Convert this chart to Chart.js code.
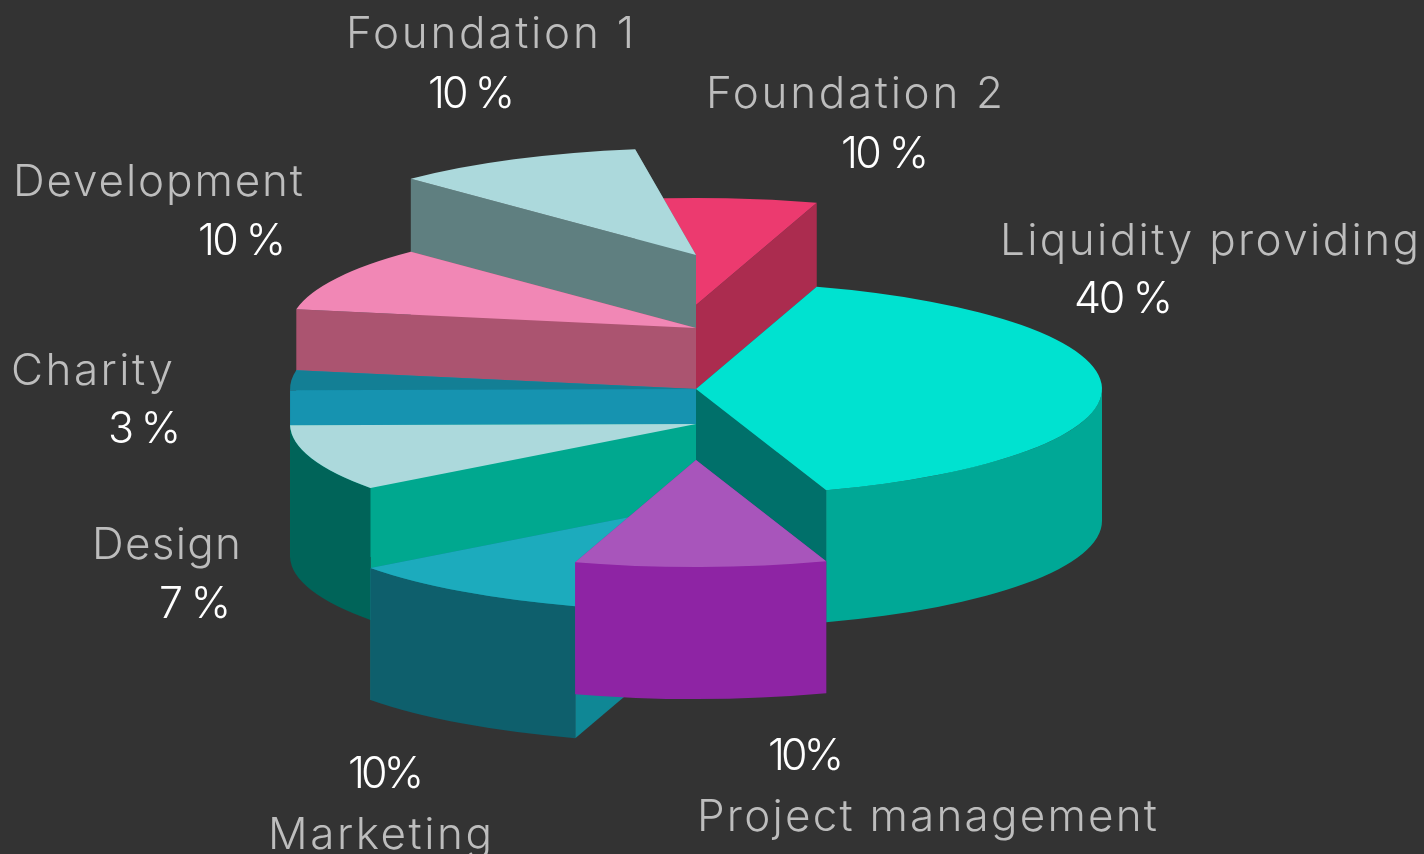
<!DOCTYPE html>
<html>
<head>
<meta charset="utf-8">
<style>
  html, body { margin: 0; padding: 0; background: #333333; overflow: hidden; }
  canvas { display: block; }
</style>
<script src="https://cdn.jsdelivr.net/npm/chart.js@4/dist/chart.umd.min.js"></script>
</head>
<body>
<canvas id="pie3d" width="1424" height="854"></canvas>
<script>
const categories = ["Liquidity providing", "Project management", "Marketing", "Design", "Charity", "Development", "Foundation 1", "Foundation 2"];
// printed next to each slice
const percentLabels = ["40 %", "10%", "10%", "7 %", "3 %", "10 %", "10 %", "10 %"];
// slice sweeps (it does not follow its own labels)
const drawnShares = [40, 10, 10, 10, 3, 9.8, 10, 7.2];

const topColors = ["#00e2d0", "#a855bb", "#1cabbd", "#acd9dc", "#137f95", "#f187b5", "#acd9dc", "#ec3a6f"];
const outerColors = ["#00a896", "#8e24a4", "#0e5f6c", "#006459", "#137f95", "#ab5470", "#5f7f80", "#ab2c4f"];
const wallColors = ["#00706a", "#8e24a4", "#0f8795", "#00a88f", "#1693b0", "#ab5470", "#5f7f80", "#ab2c4f"];

// look of the fake 3d
const squash = 0.2635;
const depth = 132;
const pieShift = -38;
const sliceDrop = [0, 71, 115, 35, 0, -61, -134, -84];
const drawOrder = [7, 6, 5, 4, 0, 3, 2, 1];

// [x, baseline, width] of name and percent text
const nameBoxes = [[1000, 255, 419], [697, 831, 460], [268, 849, 224], [92, 559, 149], [11, 385, 162], [13, 196, 290], [346, 48, 288], [706, 108, 297]];
const percentBoxes = [[1074, 313, 99], [768, 770, 76], [348, 788, 76], [159, 618, 72], [108, 443, 73], [198, 255, 88], [428, 108, 87], [841, 168, 88]];

function drawSlice(ctx, arc, i) {
  const { x, y, startAngle, endAngle, outerRadius } = arc.getProps(["x", "y", "startAngle", "endAngle", "outerRadius"]);
  const cy = y + pieShift + sliceDrop[i];
  const ry = outerRadius * squash;

  // radial walls, the one higher on screen first
  const angles = [startAngle, endAngle].sort((a, b) => Math.sin(a) - Math.sin(b));
  ctx.fillStyle = wallColors[i];
  angles.forEach((a) => {
    const ex = x + outerRadius * Math.cos(a);
    const ey = cy + ry * Math.sin(a);
    ctx.beginPath();
    ctx.moveTo(x, cy);
    ctx.lineTo(ex, ey);
    ctx.lineTo(ex, ey + depth);
    ctx.lineTo(x, cy + depth);
    ctx.closePath();
    ctx.fill();
  });

  // outer wall, only the part that faces the viewer
  const from = Math.max(startAngle, 0);
  const to = Math.min(endAngle, Math.PI);
  if (to > from) {
    ctx.fillStyle = outerColors[i];
    ctx.beginPath();
    ctx.ellipse(x, cy, outerRadius, ry, 0, from, to);
    ctx.ellipse(x, cy + depth, outerRadius, ry, 0, to, from, true);
    ctx.closePath();
    ctx.fill();
  }

  // top face is the library's own arc, flattened
  ctx.save();
  ctx.translate(x, cy);
  ctx.scale(1, squash);
  ctx.translate(-x, -y);
  arc.draw(ctx);
  ctx.restore();
}

function fitText(ctx, text, box) {
  ctx.letterSpacing = "0px";
  const gap = (box[2] - ctx.measureText(text).width) / (text.length - 1);
  ctx.letterSpacing = gap.toFixed(2) + "px";
  ctx.fillText(text, box[0], box[1]);
}

const pie3dPlugin = {
  id: "pie3d",
  beforeDatasetsDraw(chart) {
    const arcs = chart.getDatasetMeta(0).data;
    drawOrder.forEach((i) => drawSlice(chart.ctx, arcs[i], i));
    return false;
  },
  afterDraw(chart) {
    const ctx = chart.ctx;
    ctx.save();
    ctx.textAlign = "left";
    ctx.textBaseline = "alphabetic";
    categories.forEach((name, i) => {
      ctx.font = "300 44px Inter";
      ctx.fillStyle = "#bdbdbd";
      fitText(ctx, name, nameBoxes[i]);
      ctx.font = "300 43px Inter";
      ctx.fillStyle = "#ffffff";
      fitText(ctx, percentLabels[i], percentBoxes[i]);
    });
    ctx.restore();
  },
};

new Chart(document.getElementById("pie3d"), {
  type: "pie",
  data: {
    labels: categories,
    datasets: [{ data: drawnShares, backgroundColor: topColors, borderWidth: 0 }],
  },
  options: {
    responsive: false,
    animation: false,
    rotation: 17.3,
    layout: { padding: { left: 290, right: 322, top: 21, bottom: 21 } },
    plugins: { legend: { display: false }, tooltip: { enabled: false } },
  },
  plugins: [pie3dPlugin],
});
</script>
</body>
</html>
